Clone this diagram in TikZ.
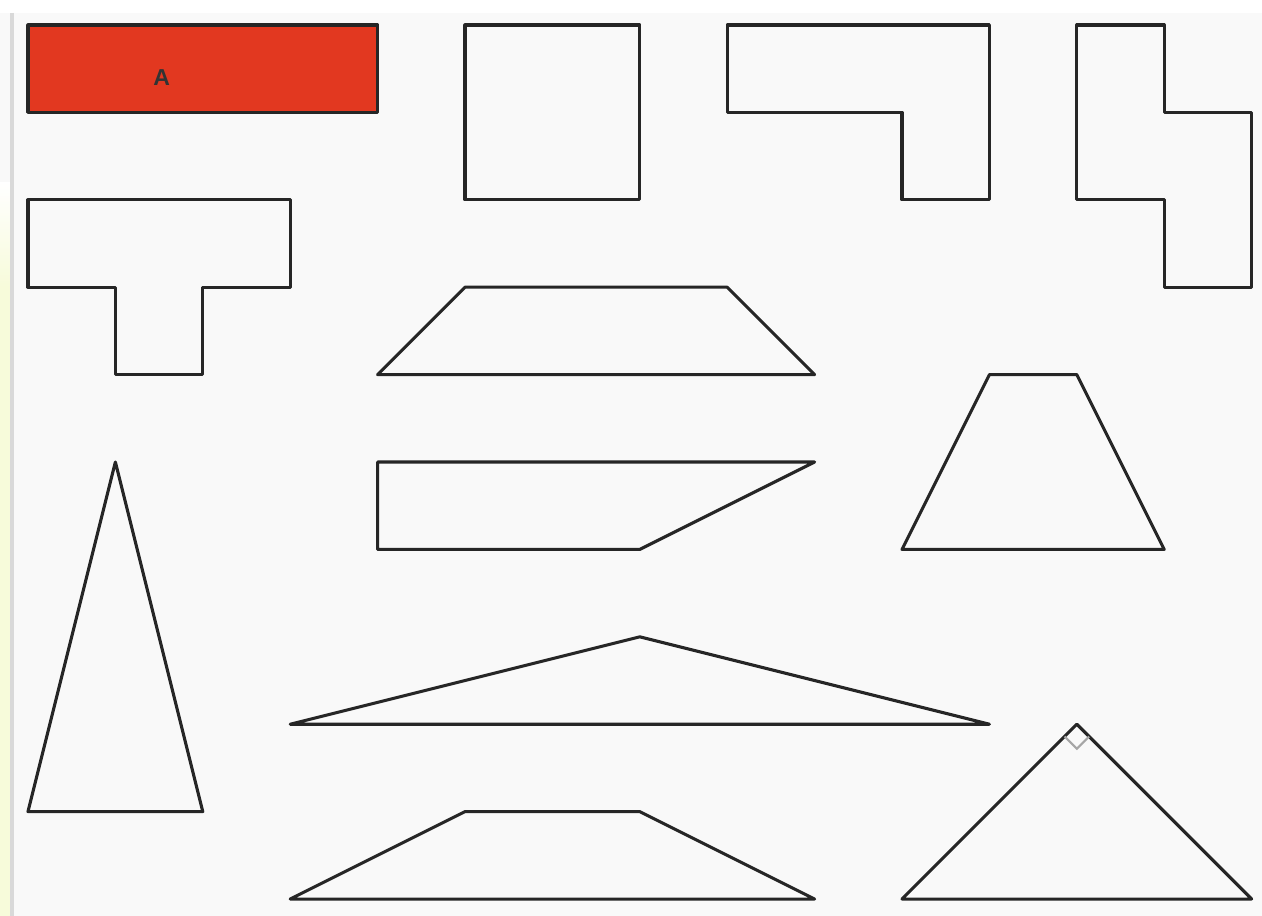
\documentclass[tikz,border=0pt]{standalone}
\usepackage{fontspec}
\setsansfont{Liberation Sans}
\usepackage{xcolor}
\definecolor{cardred}{RGB}{226,56,32}
\definecolor{paper}{RGB}{249,249,249}
\definecolor{strip}{RGB}{247,251,218}
\tikzset{
  piece/.style={draw=black!85, line width=1pt, line join=round},
  anglemark/.style={draw=black!35, line width=0.7pt}
}

\begin{document}
\begin{tikzpicture}[x=1cm,y=1cm]

\useasboundingbox (-0.32,0.286) rectangle (14.119,-10.194);
\fill[paper] (-0.32,0.286) rectangle (14.119,-10.194);
\fill[white] (-0.32,0.286) rectangle (14.119,0.14);
\shade[top color=white, bottom color=strip] (-0.32,-1.8) rectangle (-0.19,-3.0);
\fill[strip] (-0.32,-3.0) rectangle (-0.19,-10.194);
\draw[black!15, line width=1.2pt] (-0.18,0.14) -- (-0.18,-10.194);

% top row
\draw [piece, fill=cardred] (0,0) rectangle (4,-1);
\node (labelA) at (1.53,-0.6) {\sffamily\bfseries\fontsize{7.5}{9}\selectfont\color{black!80}A};
\draw [piece] (5,0) rectangle (7,-2);
\draw [piece] (8,0) -- (11,0) -- (11,-2) -- (10,-2) -- (10,-1) -- (8,-1) -- cycle;
\draw [piece] (12,0) -- (13,0) -- (13,-1) -- (14,-1) -- (14,-3) -- (13,-3) -- (13,-2) -- (12,-2) -- cycle;

% middle
\draw [piece] (0,-2) -- (3,-2) -- (3,-3) -- (2,-3) -- (2,-4) -- (1,-4) -- (1,-3) -- (0,-3) -- cycle;
\draw [piece] (5,-3) -- (8,-3) -- (9,-4) -- (4,-4) -- cycle;
\draw [piece] (11,-4) -- (12,-4) -- (13,-6) -- (10,-6) -- cycle;
\draw [piece] (4,-5) -- (9,-5) -- (7,-6) -- (4,-6) -- cycle;

% triangles
\draw [piece] (1,-5) -- (2,-9) -- (0,-9) -- cycle;
\draw [piece] (7,-7) -- (11,-8) -- (3,-8) -- cycle;
\draw [piece] (5,-9) -- (7,-9) -- (9,-10) -- (3,-10) -- cycle;
\draw [piece] (12,-8) -- (14,-10) -- (10,-10) -- cycle;
\draw [anglemark] (11.86,-8.14) -- (12,-8.28) -- (12.14,-8.14);

\end{tikzpicture}
\end{document}
